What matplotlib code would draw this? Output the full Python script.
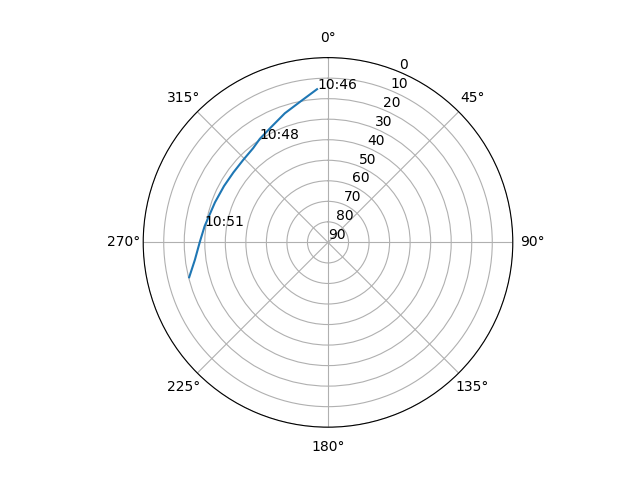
import numpy as np
import matplotlib
matplotlib.use("Agg")
import matplotlib.pyplot as plt

# satellite pass (azimuth deg, elevation deg)
times = ["10:46:00", "10:46:30", "10:47:00", "10:47:30", "10:48:00", "10:48:30",
         "10:49:00", "10:49:30", "10:50:00", "10:50:30", "10:51:00", "10:51:30",
         "10:52:00", "10:52:20"]
azimuth = [355.9, 349.4, 341.5, 334.0, 326.7, 321.5, 314.1, 306.5, 298.5, 289.5,
           277.5, 270.3, 262.5, 255.9]
elevation = [15.2, 19.8, 23.7, 27.3, 29.6, 31.4, 32.4, 32.7, 32.4, 31.6,
             29.4, 27.6, 24.6, 20.3]
labeled = ["10:46:00", "10:48:00", "10:51:00"]

fig = plt.figure(figsize=(6.4, 4.8), dpi=100)
ax = fig.add_subplot(projection="polar")
ax.set_theta_zero_location("N")
ax.set_theta_direction(-1)

ax.plot(np.radians(azimuth), elevation)
for t, a, e in zip(times, azimuth, elevation):
    if t in labeled:
        ax.text(np.radians(a), e, t[:5])

ax.set_yticks(range(0, 91, 10))
ax.set_ylim(90, 0)

plt.savefig("out.png")
